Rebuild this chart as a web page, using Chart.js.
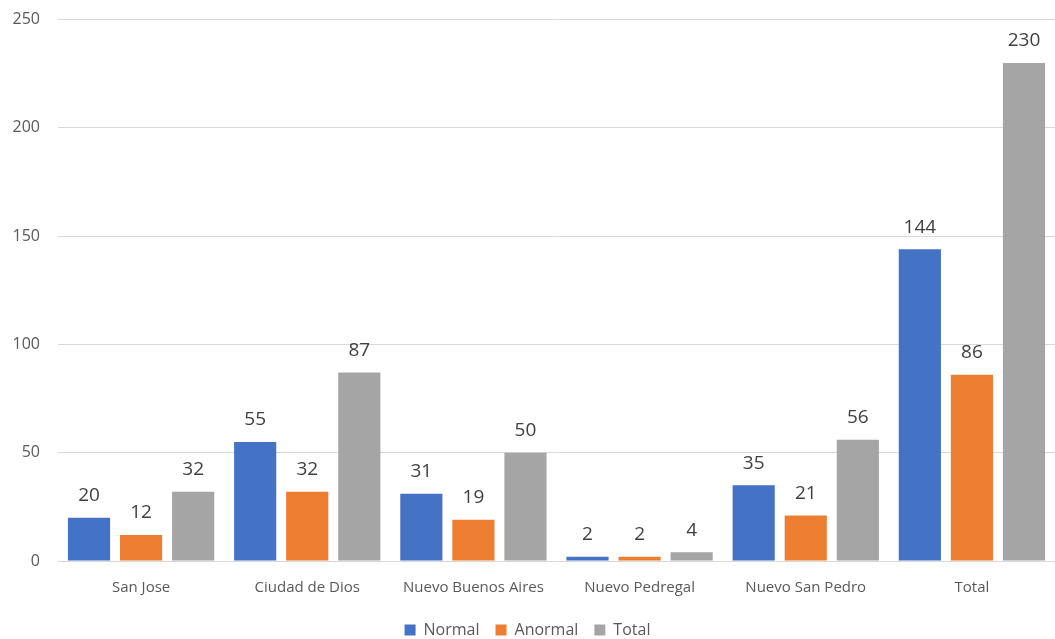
<!DOCTYPE html>
<html>
<head>
<meta charset="utf-8">
<script src="https://cdn.jsdelivr.net/npm/chart.js@4/dist/chart.umd.min.js"></script>
<style>
  html, body { margin: 0; padding: 0; background: #fff; overflow: hidden; }
  #frame { width: 1055px; height: 639px; position: relative; overflow: hidden; }
  #wrap { width: 1055px; height: 647px; position: absolute; left: 0; top: -8px; }
</style>
</head>
<body>
<div id="frame"><div id="wrap"><canvas id="c"></canvas></div></div>
<script>
// Neighbourhoods and counts per classification
const categories = ['San Jose', 'Ciudad de Dios', 'Nuevo Buenos Aires', 'Nuevo Pedregal', 'Nuevo San Pedro', 'Total'];
const normalValues = [20, 55, 31, 2, 35, 144];
const anormalValues = [12, 32, 19, 2, 21, 86];
const totalValues = [32, 87, 50, 4, 56, 230];
const seriesNames = ['Normal', 'Anormal', 'Total'];

const FONT = '"Open Sans", "Liberation Sans", sans-serif';

// Writes each bar's value just above it
const valueLabels = {
  id: 'valueLabels',
  afterDatasetsDraw(chart) {
    const ctx = chart.ctx;
    ctx.save();
    ctx.font = '19px ' + FONT;
    ctx.fillStyle = '#404040';
    ctx.textAlign = 'center';
    ctx.textBaseline = 'middle';
    chart.data.datasets.forEach((ds, i) => {
      chart.getDatasetMeta(i).data.forEach((bar, j) => {
        ctx.fillText(String(ds.data[j]), bar.x, bar.y - 22);
      });
    });
    ctx.restore();
  }
};

new Chart(document.getElementById('c'), {
  type: 'bar',
  data: {
    labels: categories,
    datasets: [
      { label: seriesNames[0], data: normalValues, backgroundColor: '#4472C4' },
      { label: seriesNames[1], data: anormalValues, backgroundColor: '#ED7D31' },
      { label: seriesNames[2], data: totalValues, backgroundColor: '#A5A5A5' }
    ]
  },
  options: {
    responsive: true,
    maintainAspectRatio: false,
    animation: false,
    datasets: { bar: { categoryPercentage: 0.94, barPercentage: 0.81 } },
    layout: { padding: { top: 5, right: 0, left: 0, bottom: -9 } },
    plugins: {
      legend: {
        position: 'bottom',
        labels: {
          font: { family: FONT, size: 16 },
          color: '#595959',
          boxWidth: 11,
          boxHeight: 11,
          padding: 16
        }
      },
      tooltip: { enabled: false }
    },
    scales: {
      x: {
        afterFit(scale) { scale.height = 45; },
        grid: { display: false, drawTicks: false },
        border: { color: '#D9D9D9' },
        ticks: { font: { family: FONT, size: 15 }, color: '#595959', padding: 18, maxRotation: 0 }
      },
      y: {
        min: 0,
        max: 250,
        afterFit(scale) { scale.width = 58; },
        grid: { color: '#D9D9D9', drawTicks: false },
        border: { display: false },
        ticks: { stepSize: 50, font: { family: FONT, size: 16 }, color: '#595959', padding: 18 }
      }
    }
  },
  plugins: [valueLabels]
});
</script>
</body>
</html>
